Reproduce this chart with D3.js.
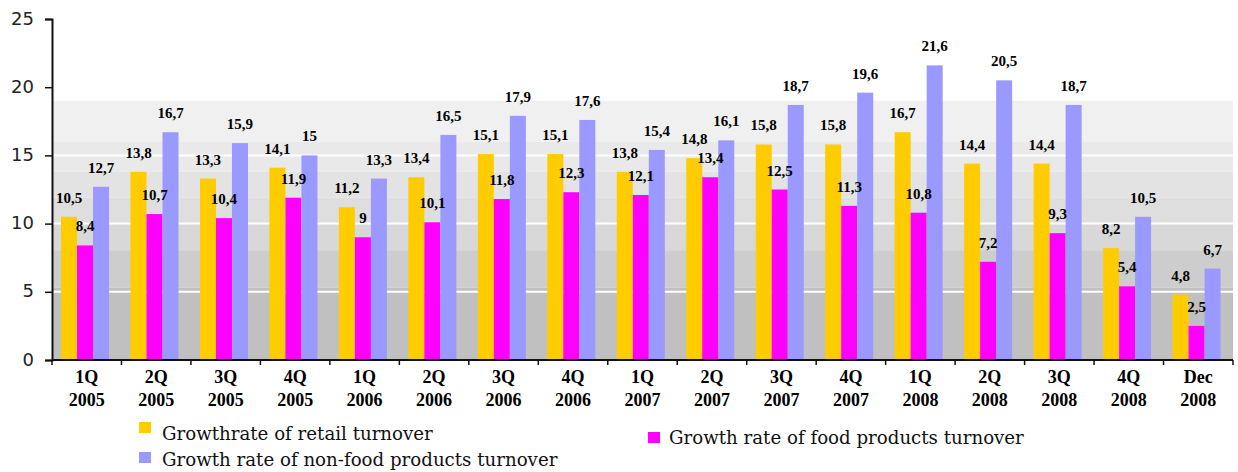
<!DOCTYPE html>
<html>
<head>
<meta charset="utf-8">
<script src="https://cdn.jsdelivr.net/npm/d3@7"></script>
<style>
  html, body { margin: 0; padding: 0; background: #fff; }
  svg { display: block; }
</style>
</head>
<body>
<svg id="chart" width="1238" height="472"></svg>
<script>
// Quarterly growth rates of retail turnover, 2005–2008
const categories = ["1Q 2005", "2Q 2005", "3Q 2005", "4Q 2005", "1Q 2006", "2Q 2006", "3Q 2006", "4Q 2006",
  "1Q 2007", "2Q 2007", "3Q 2007", "4Q 2007", "1Q 2008", "2Q 2008", "3Q 2008", "4Q 2008", "Dec 2008"];
const retail  = [10.5, 13.8, 13.3, 14.1, 11.2, 13.4, 15.1, 15.1, 13.8, 14.8, 15.8, 15.8, 16.7, 14.4, 14.4, 8.2, 4.8];
const food    = [8.4, 10.7, 10.4, 11.9, 9, 10.1, 11.8, 12.3, 12.1, 13.4, 12.5, 11.3, 10.8, 7.2, 9.3, 5.4, 2.5];
const nonFood = [12.7, 16.7, 15.9, 15, 13.3, 16.5, 17.9, 17.6, 15.4, 16.1, 18.7, 19.6, 21.6, 20.5, 18.7, 10.5, 6.7];
const seriesNames = ["Growthrate of retail turnover", "Growth rate of food products turnover", "Growth rate of non-food products turnover"];
const yTicks = [0, 5, 10, 15, 20, 25];

const seriesColors = ["#ffcc00", "#ff00ff", "#9999ff"];
// shaded background steps (value range and fill)
const shading = [
  [19, 16, "#f0f0f0"], [16, 13.8, "#e9e9e9"], [13.8, 11.9, "#e3e3e3"],
  [11.9, 10, "#dedede"], [10, 8.05, "#d8d8d8"], [8.05, 5.3, "#cdcdcd"], [5.3, 0, "#c0c0c0"]
];

(function draw() {
  const svg = d3.select("#chart");
  const mLeft = 52, mRight = 1233, mTop = 19, mBottom = 360;

  const y = d3.scaleLinear().domain([0, 25]).range([mBottom, mTop]);
  const x0 = d3.scaleBand().domain(categories).range([mLeft, mRight]).paddingInner(0).paddingOuter(0);
  const bw = x0.bandwidth();
  const x1 = d3.scaleBand().domain([0, 1, 2]).range([bw * 0.13, bw * 0.13 + 48]);

  // background shading
  svg.append("g").selectAll("rect").data(shading).join("rect")
    .attr("x", mLeft).attr("width", mRight - mLeft)
    .attr("y", d => y(d[0])).attr("height", d => y(d[1]) - y(d[0]))
    .attr("fill", d => d[2]);

  // white gridlines
  svg.append("g").selectAll("line").data(yTicks.filter(t => t > 0 && t < 25)).join("line")
    .attr("x1", mLeft).attr("x2", mRight)
    .attr("y1", d => y(d)).attr("y2", d => y(d))
    .attr("stroke", "#fff").attr("stroke-width", 2);

  const series = [retail, food, nonFood];
  const rows = [];
  series.forEach((vals, s) => vals.forEach((v, i) => rows.push({ s, i, v })));

  // bars
  svg.append("g").selectAll("rect").data(rows).join("rect")
    .attr("x", d => x0(categories[d.i]) + x1(d.s))
    .attr("width", x1.bandwidth())
    .attr("y", d => y(d.v))
    .attr("height", d => y(0) - y(d.v))
    .attr("fill", d => seriesColors[d.s]);

  // value labels
  svg.append("g").selectAll("text").data(rows).join("text")
    .attr("x", d => x0(categories[d.i]) + x1(d.s) + x1.bandwidth() / 2)
    .attr("y", d => y(d.v) - 14)
    .attr("text-anchor", "middle")
    .attr("font-family", "Liberation Serif, Times New Roman, serif")
    .attr("font-weight", "bold")
    .attr("font-size", 15)
    .attr("fill", "#000")
    .text(d => String(d.v).replace(".", ","));

  // y axis
  const yAxis = d3.axisLeft(y).tickValues(yTicks).tickSize(7).tickPadding(11).tickFormat(d3.format("d"));
  const gy = svg.append("g").attr("transform", `translate(${mLeft},0)`).call(yAxis);
  gy.select(".domain").attr("stroke", "#111").attr("stroke-width", 2);
  gy.selectAll(".tick line").attr("stroke", "#111").attr("stroke-width", 1.5);
  gy.selectAll(".tick text")
    .attr("font-family", "DejaVu Sans, sans-serif").attr("font-size", 18).attr("fill", "#222")
    .attr("dy", "0.28em");

  // x axis
  const gx = svg.append("g");
  gx.append("line").attr("x1", mLeft).attr("x2", mRight).attr("y1", mBottom).attr("y2", mBottom)
    .attr("stroke", "#111").attr("stroke-width", 2);
  const bounds = categories.map(c => x0(c)).concat([mRight]);
  gx.selectAll("line.tk").data(bounds).join("line").attr("class", "tk")
    .attr("x1", d => d).attr("x2", d => d).attr("y1", mBottom).attr("y2", mBottom + 5)
    .attr("stroke", "#111").attr("stroke-width", 1.5);
  const xl = gx.selectAll("text").data(categories).join("text")
    .attr("text-anchor", "middle")
    .attr("font-family", "Liberation Serif, Times New Roman, serif")
    .attr("font-weight", "bold").attr("font-size", 18).attr("fill", "#000");
  xl.append("tspan").attr("x", d => x0(d) + bw / 2).attr("y", 383).text(d => d.split(" ")[0]);
  xl.append("tspan").attr("x", d => x0(d) + bw / 2).attr("y", 406).text(d => d.split(" ")[1]);

  // legend
  const legendPos = [[139, 422, 162, 440], [648, 432, 669, 444], [139, 452, 162, 466]];
  const lg = svg.append("g").selectAll("g").data(seriesNames).join("g");
  lg.append("rect")
    .attr("x", (d, i) => legendPos[i][0]).attr("y", (d, i) => legendPos[i][1])
    .attr("width", 12).attr("height", 11)
    .attr("fill", (d, i) => seriesColors[i]);
  lg.append("text")
    .attr("x", (d, i) => legendPos[i][2]).attr("y", (d, i) => legendPos[i][3])
    .attr("font-family", "DejaVu Serif, serif").attr("font-size", 18.2).attr("fill", "#111")
    .text(d => d);
})();
</script>
</body>
</html>
